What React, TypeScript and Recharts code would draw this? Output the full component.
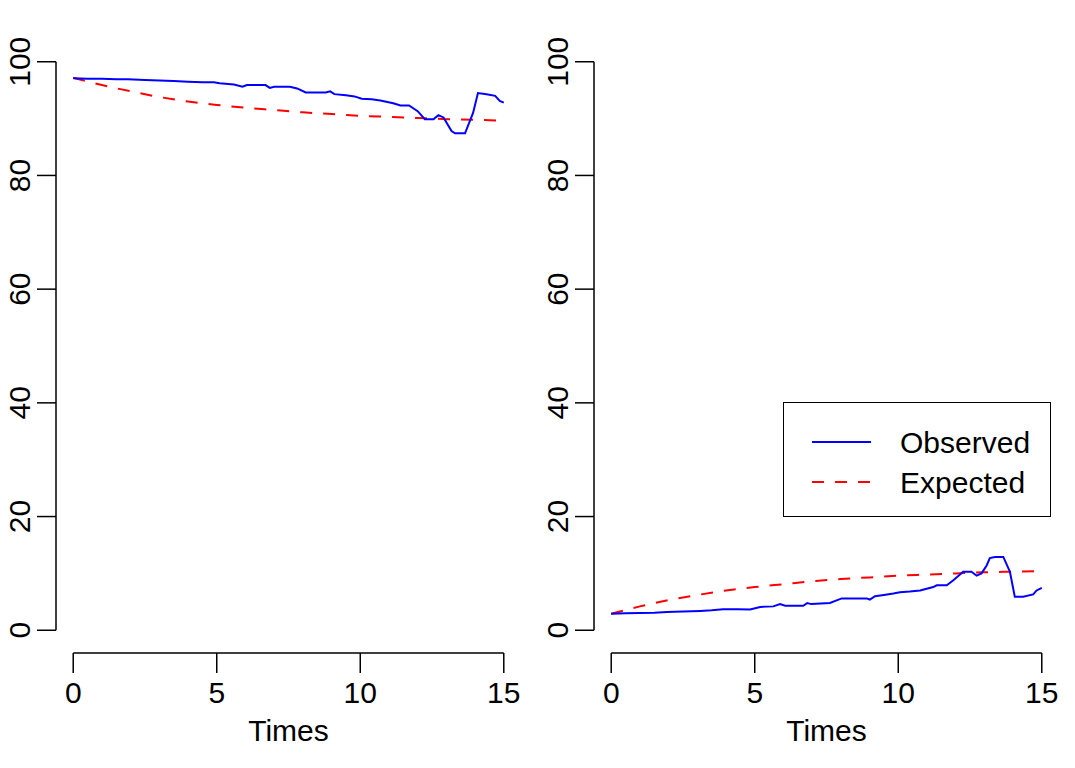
import { LineChart, Line, XAxis, YAxis, ReferenceLine } from 'recharts';

// observed series, left panel (percentage staying in state)
const leftObsTimes = [0, 0.5, 1, 1.5, 1.9, 2.5, 3.0, 3.5, 4.0, 4.5, 4.9, 5.1, 5.6, 5.9, 6.05, 6.7, 6.85, 7.0, 7.55, 7.8,
  8.1, 8.8, 8.95, 9.1, 9.5, 9.8, 10.05, 10.4, 10.7, 11.15, 11.4, 11.7, 12.0, 12.25, 12.55, 12.72, 12.9, 13.18, 13.3, 13.65,
  13.93, 14.1, 14.4, 14.7, 14.86, 15.0];
const leftObsValues = [97.1, 97.0, 97.0, 96.9, 96.9, 96.8, 96.7, 96.6, 96.5, 96.4, 96.4, 96.2, 96.0, 95.6, 95.9, 95.9, 95.4, 95.6, 95.6, 95.3,
  94.6, 94.6, 94.8, 94.3, 94.1, 93.9, 93.5, 93.4, 93.2, 92.7, 92.3, 92.3, 91.3, 89.9, 89.9, 90.6, 90.2, 87.8, 87.4, 87.4,
  91.0, 94.5, 94.3, 94.0, 93.1, 92.8];

// observed series, right panel
const rightObsTimes = [0, 0.5, 1, 1.5, 1.94, 2.5, 3.1, 3.5, 3.9, 4.4, 4.84, 5.19, 5.65, 5.88, 6.06, 6.69, 6.83, 6.97, 7.62, 8.03,
  8.9, 9.01, 9.19, 9.5, 9.83, 10.06, 10.4, 10.76, 11.22, 11.34, 11.69, 11.92, 12.26, 12.55, 12.73, 12.9, 13.08, 13.19, 13.37, 13.66,
  13.89, 14.06, 14.35, 14.7, 14.82, 15.0];
const rightObsValues = [2.9, 3.0, 3.05, 3.1, 3.2, 3.3, 3.4, 3.5, 3.7, 3.7, 3.65, 4.1, 4.2, 4.6, 4.3, 4.3, 4.8, 4.6, 4.8, 5.6,
  5.6, 5.4, 6.0, 6.2, 6.45, 6.7, 6.8, 7.0, 7.6, 7.9, 7.9, 8.8, 10.3, 10.3, 9.6, 10.0, 11.4, 12.7, 12.9, 12.9,
  10.3, 5.9, 5.9, 6.3, 7.0, 7.45];

// expected curves
const expTimes = [0, 1, 2, 3, 4, 5, 6, 7, 8, 9, 10, 11, 12, 13, 14, 15];
const leftExpValues = [97.2, 95.9, 94.8, 93.8, 93.0, 92.4, 91.9, 91.5, 91.1, 90.8, 90.5, 90.3, 90.1, 89.9, 89.8, 89.6];
const rightExpValues = [2.9, 4.2, 5.3, 6.2, 7.0, 7.6, 8.1, 8.6, 9.0, 9.3, 9.6, 9.8, 10.0, 10.2, 10.3, 10.4];

const xTicks = [0, 5, 10, 15];
const yTicks = [0, 20, 40, 60, 80, 100];

const FONT = '"Liberation Sans", Arial, Helvetica, sans-serif';
const W = 537;
const H = 768;

const zip = (ts: number[], vs: number[]) => ts.map((t, i) => ({ t, v: vs[i] }));

const XTick = ({ x, y, payload }: any) => (
  <text x={x} y={y + 28} textAnchor="middle" fontSize={30} fontFamily={FONT} fill="#000">
    {payload.value}
  </text>
);

const YTick = ({ x, y, payload }: any) => (
  <text x={x} y={y} transform={`rotate(-90, ${x}, ${y})`} textAnchor="middle" fontSize={30} fontFamily={FONT} fill="#000">
    {payload.value}
  </text>
);

// legend box drawn over the right panel, like R's legend()
const LegendBox = () => (
  <div style={{ position: 'absolute', left: 245, top: 402, width: 268, height: 115, border: '1.5px solid #000', background: '#fff', boxSizing: 'border-box' }}>
    <svg width={266} height={113} style={{ position: 'absolute', left: 0, top: 0 }}>
      <line x1={28} x2={87} y1={39} y2={39} stroke="#0000ff" strokeWidth={2} />
      <line x1={28} x2={87} y1={79} y2={79} stroke="#ff0000" strokeWidth={2} strokeDasharray="12 11" />
      <text x={116} y={50} fontSize={30} fontFamily={FONT}>Observed</text>
      <text x={116} y={90} fontSize={30} fontFamily={FONT}>Expected</text>
    </svg>
  </div>
);

function Panel({ obs, exp }: { obs: { t: number; v: number }[]; exp: { t: number; v: number }[] }) {
  return (
    <LineChart width={W} height={H} margin={{ top: 39, right: 16, left: 0, bottom: 0 }}>
      <XAxis
        type="number"
        dataKey="t"
        domain={[-0.6, 15.6]}
        ticks={xTicks}
        allowDataOverflow
        axisLine={false}
        tickLine={{ stroke: '#000', strokeWidth: 1.5 }}
        tickSize={20}
        height={115}
        tick={<XTick />}
        label={{ value: 'Times', position: 'insideBottom', offset: 27, fontSize: 30, fontFamily: FONT, fill: '#000' }}
      />
      <YAxis
        type="number"
        domain={[-4, 104]}
        ticks={yTicks}
        allowDataOverflow
        axisLine={false}
        tickLine={{ stroke: '#000', strokeWidth: 1.5 }}
        tickSize={19}
        tickMargin={7}
        width={56}
        tick={<YTick />}
      />
      <ReferenceLine segment={[{ x: 0, y: -4 }, { x: 15, y: -4 }]} stroke="#000" strokeWidth={1.5} ifOverflow="visible" />
      <ReferenceLine segment={[{ x: -0.6, y: 0 }, { x: -0.6, y: 100 }]} stroke="#000" strokeWidth={1.5} ifOverflow="visible" />
      <Line data={exp} dataKey="v" type="monotone" stroke="#ff0000" strokeWidth={2} strokeDasharray="12 11" dot={false} isAnimationActive={false} />
      <Line data={obs} dataKey="v" type="linear" stroke="#0000ff" strokeWidth={2} dot={false} isAnimationActive={false} />
    </LineChart>
  );
}

export default function App() {
  return (
    <div style={{ position: 'absolute', left: 0, top: 0, width: 1075, height: 768, background: '#fff' }}>
      <div style={{ position: 'absolute', left: 0, top: 0 }}>
        <Panel obs={zip(leftObsTimes, leftObsValues)} exp={zip(expTimes, leftExpValues)} />
      </div>
      <div style={{ position: 'absolute', left: 538, top: 0, width: W, height: H }}>
        <Panel obs={zip(rightObsTimes, rightObsValues)} exp={zip(expTimes, rightExpValues)} />
        <LegendBox />
      </div>
    </div>
  );
}
